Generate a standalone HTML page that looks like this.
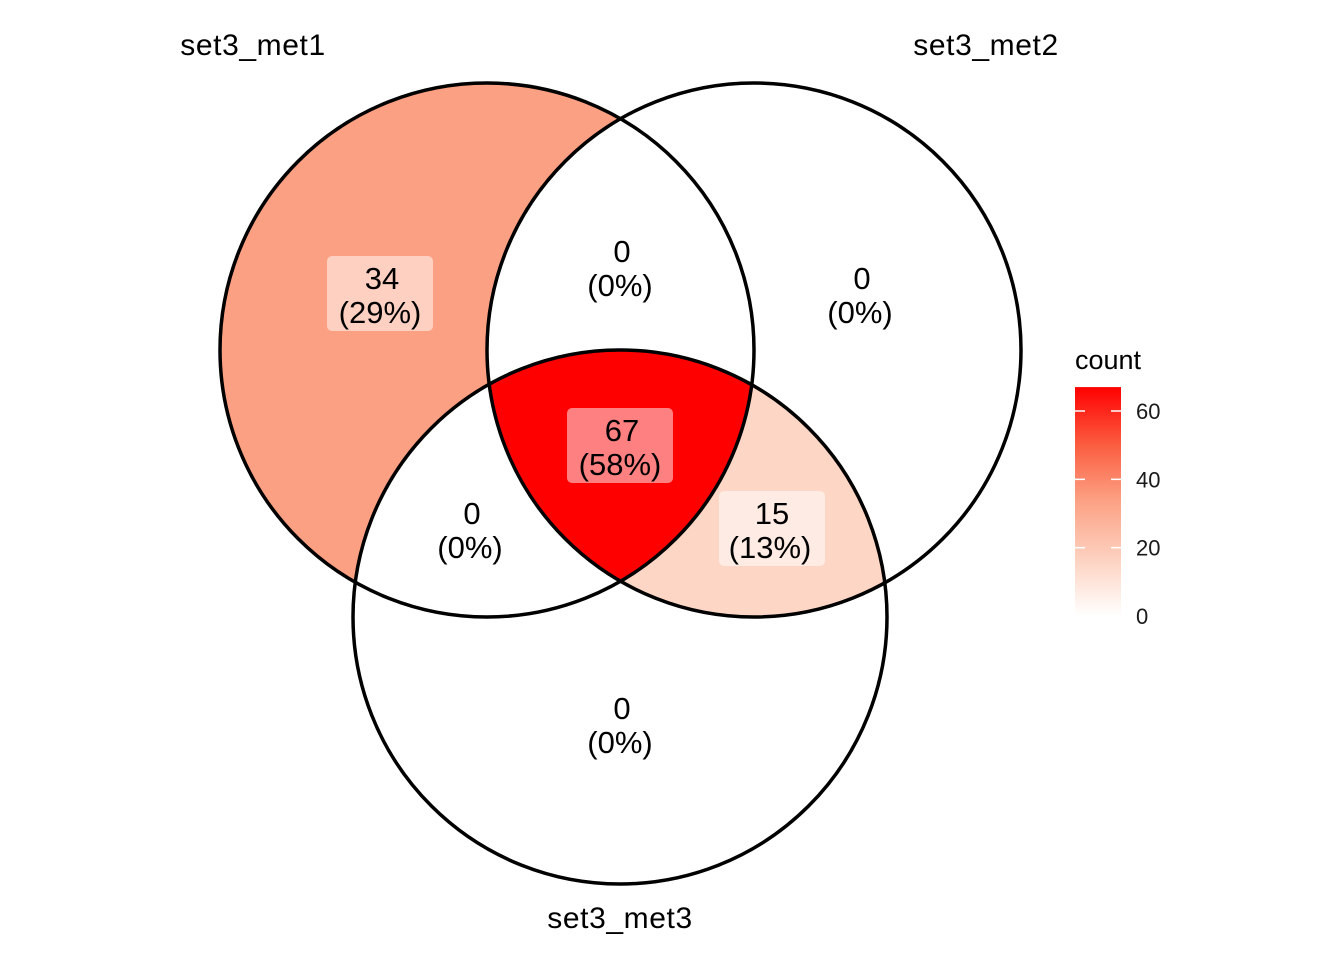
<!DOCTYPE html>
<html><head><meta charset="utf-8">
<style>
html,body{margin:0;padding:0;background:#fff;}
svg{display:block;font-family:"Liberation Sans",Arial,sans-serif;}
</style></head>
<body>
<svg id="chart" width="1344" height="960" viewBox="0 0 1344 960" xmlns="http://www.w3.org/2000/svg">
<defs>
<linearGradient id="cbar" x1="0" y1="1" x2="0" y2="0">
<stop offset="0" stop-color="#ffffff"/>
<stop offset="0.224" stop-color="#fdd6c6"/>
<stop offset="0.507" stop-color="#fca083"/>
<stop offset="0.75" stop-color="#fb5c3f"/>
<stop offset="1" stop-color="#ff0000"/>
</linearGradient>
</defs>
<g id="regions"></g>
<g id="outlines"></g>
<g id="labels"></g>
<g id="setnames"></g>
<g id="legend"></g>
</svg>
<script>
const setNames = ["set3_met1","set3_met2","set3_met3"];
const regionKeys = ["100","110","010","111","101","011","001"];
const regionCounts = [34, 0, 0, 67, 0, 15, 0];
const legendTicks = [0, 20, 40, 60];

const NS = "http://www.w3.org/2000/svg";
const svg = document.getElementById("chart");
const circles = [{cx:487,cy:350,r:267},{cx:754,cy:350,r:267},{cx:620,cy:617,r:267}];
const namePos = [{x:253,y:55},{x:986,y:55},{x:620,y:928}];
const labelPos = {"100":[380,295],"110":[620,268],"010":[860,295],"111":[620,447],"101":[470,530],"011":[770,530],"001":[620,725]};
const total = regionCounts.reduce((a,b)=>a+b,0);
const maxC = Math.max(...regionCounts);

function mk(tag, attrs, parent){const e=document.createElementNS(NS,tag);for(const k in attrs)e.setAttribute(k,attrs[k]);if(parent)parent.appendChild(e);return e;}
const stops=[[0,[255,255,255]],[0.224,[253,214,198]],[0.507,[252,160,131]],[0.75,[251,92,63]],[1,[255,0,0]]];
function color(v){const t=maxC?v/maxC:0;for(let i=1;i<stops.length;i++){if(t<=stops[i][0]){const a=stops[i-1],b=stops[i];const f=(t-a[0])/(b[0]-a[0]);const c=a[1].map((x,j)=>Math.round(x+(b[1][j]-x)*f));return `rgb(${c})`;}}return "rgb(255,0,0)";}

const defs = svg.querySelector("defs");
const regG = document.getElementById("regions");
regionKeys.forEach((key,i)=>{
  const m = mk("mask",{id:"m"+key,maskUnits:"userSpaceOnUse",x:0,y:0,width:1344,height:960},defs);
  mk("rect",{x:0,y:0,width:1344,height:960,fill:"black"},m);
  const inc=[...key].map((c,j)=>c==="1"?j:-1).filter(j=>j>=0);
  inc.forEach((j,k)=>{
    if(k===0){mk("circle",{cx:circles[j].cx,cy:circles[j].cy,r:circles[j].r,fill:"white"},m);}
  });
  [...key].forEach((c,j)=>{ if(c==="0") mk("circle",{cx:circles[j].cx,cy:circles[j].cy,r:circles[j].r,fill:"black"},m); });
  let clipId=null;
  if(inc.length>1){
    let parentClip=null;
    inc.slice(1).forEach((j,k)=>{
      const cp=mk("clipPath",{id:"c"+key+k},defs);
      mk("circle",{cx:circles[j].cx,cy:circles[j].cy,r:circles[j].r},cp);
      if(parentClip) cp.setAttribute("clip-path",`url(#${parentClip})`);
      parentClip="c"+key+k;
    });
    clipId=parentClip;
  }
  const p = mk("rect",{x:0,y:0,width:1344,height:960,fill:color(regionCounts[i]),mask:`url(#m${key})`},regG);
  
  
  if(clipId){const w=mk("g",{"clip-path":`url(#${clipId})`},regG);w.appendChild(p);}
});

const outG=document.getElementById("outlines");
circles.forEach((c,i)=>{
  const e=mk("circle",{cx:c.cx,cy:c.cy,r:c.r,fill:"none",stroke:"#000","stroke-width":3.5},outG);
  
  
});

const labG=document.getElementById("labels");
regionKeys.forEach((key,i)=>{
  const v=regionCounts[i];const [x,y]=labelPos[key];
  const pct=total?Math.round(v/total*100):0;
  const g=mk("g",{},labG);
  
  
  if(v>0){
    const w=String(pct).length>1?106:90;
    mk("rect",{x:x-w/2+(key==="011"?2:0),y:y-39,width:w,height:75,rx:5,fill:"rgba(255,255,255,0.5)"},g);
  }
  const t1=mk("text",{x:x+2,y:y-6,"text-anchor":"middle","font-size":31,fill:"#000"},g);t1.textContent=v;
  const t2=mk("text",{x:x,y:y+28,"text-anchor":"middle","font-size":31,fill:"#000"},g);t2.textContent=`(${pct}%)`;
});

const snG=document.getElementById("setnames");
setNames.forEach((n,i)=>{
  const t=mk("text",{x:namePos[i].x,y:namePos[i].y,"text-anchor":"middle","font-size":30,"letter-spacing":0.6,fill:"#000"},snG);
  t.textContent=n;
  
  
});

const lg=document.getElementById("legend");
const y0=616, pxPer=205/60;
const tt=mk("text",{x:1075,y:369,"font-size":27,fill:"#000"},lg);tt.textContent="count";

const barTop=y0-maxC*pxPer;
const bar=mk("rect",{x:1075,y:barTop,width:46,height:y0-barTop,fill:"url(#cbar)"},lg);

legendTicks.forEach(v=>{
  const y=y0-v*pxPer;
  mk("line",{x1:1075,x2:1085,y1:y,y2:y,stroke:"#fff","stroke-width":1.5},lg);
  mk("line",{x1:1111,x2:1121,y1:y,y2:y,stroke:"#fff","stroke-width":1.5},lg);
  const t=mk("text",{x:1136,y:y+8,"font-size":22,fill:"#1a1a1a"},lg);t.textContent=v;
  
});
</script>
</body></html>
